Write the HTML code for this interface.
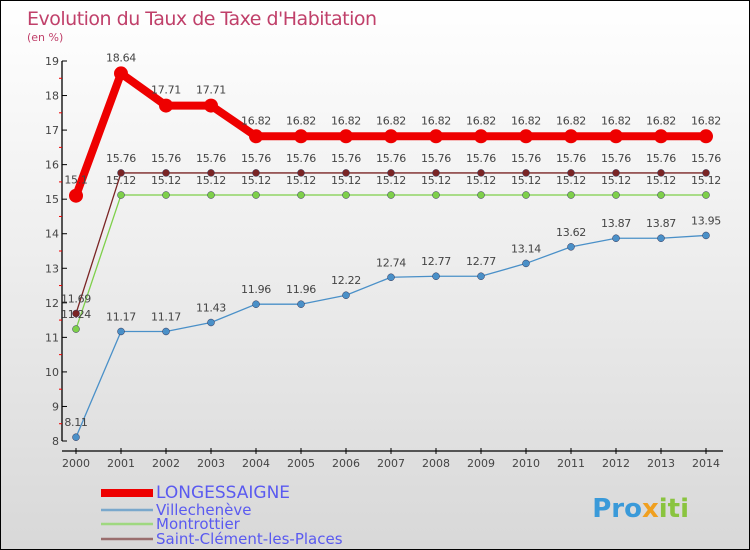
<!DOCTYPE html>
<html><head><meta charset="utf-8"><style>
body{margin:0}
#c{width:750px;height:550px;position:relative;box-sizing:border-box;border:1px solid #000;background:linear-gradient(#fff,#f0f0f0 40%,#d8d8d8);font-family:"DejaVu Sans","Liberation Sans",sans-serif;overflow:hidden}
svg text{font-family:"DejaVu Sans","Liberation Sans",sans-serif}
</style></head><body>
<div id="c">
<svg id="s" width="750" height="550">
<text x="26" y="24" font-size="19" fill="#c0406a" style="letter-spacing:-0.5px">Evolution du Taux de Taxe d'Habitation</text>
<text x="26" y="40" font-size="11" fill="#c0406a">(en %)</text>
<text x="688" y="516" font-size="26" font-weight="bold" text-anchor="end" fill="#3a9ad9">Pro<tspan fill="#f0a020">x</tspan><tspan fill="#8ac43f">iti</tspan></text>
</svg>
</div>
<script>
const years=[2000,2001,2002,2003,2004,2005,2006,2007,2008,2009,2010,2011,2012,2013,2014];
const longessaigne=[15.1,18.64,17.71,17.71,16.82,16.82,16.82,16.82,16.82,16.82,16.82,16.82,16.82,16.82,16.82];
const villechenève=[8.11,11.17,11.17,11.43,11.96,11.96,12.22,12.74,12.77,12.77,13.14,13.62,13.87,13.87,13.95];
const montrottier=[11.24,15.12,15.12,15.12,15.12,15.12,15.12,15.12,15.12,15.12,15.12,15.12,15.12,15.12,15.12];
const saintClement=[11.69,15.76,15.76,15.76,15.76,15.76,15.76,15.76,15.76,15.76,15.76,15.76,15.76,15.76,15.76];
const yTicks=[8,9,10,11,12,13,14,15,16,17,18,19];
const yMin=8,yMax=19;
const X=i=>75+i*(630/(years.length-1));
const Y=v=>440-(v-yMin)*(380/(yMax-yMin));
const s=document.getElementById('s');
const NS='http://www.w3.org/2000/svg';
function mk(t,a){const e=document.createElementNS(NS,t);for(const k in a)e.setAttribute(k,a[k]);s.appendChild(e);return e;}
let e;
e=mk('line',{x1:61,y1:Y(yMax),x2:61,y2:Y(yMin),stroke:'#000','stroke-width':1.3});


e=mk('line',{x1:61,y1:450,x2:722,y2:450,stroke:'#000','stroke-width':1.3});


yTicks.forEach(v=>{
 let t=mk('line',{x1:61,y1:Y(v),x2:66,y2:Y(v),stroke:'#000'});
 
 
 let l=mk('text',{x:58,y:Y(v)+4,'font-size':11,'text-anchor':'end',fill:'#444'});l.textContent=v;
 
 
 if(v<yMax){let m=mk('line',{x1:58,y1:Y(v+0.5),x2:61,y2:Y(v+0.5),stroke:'#e00'});
 
 }
});
years.forEach((y,i)=>{
 let t=mk('line',{x1:X(i),y1:447,x2:X(i),y2:453,stroke:'#000'});
 
 
 let l=mk('text',{x:X(i),y:466,'font-size':11,'text-anchor':'middle',fill:'#444'});l.textContent=y;
 
 
});
function series(d,col,w,r,name,lab,dy){
 let p=mk('polyline',{points:d.map((v,i)=>X(i)+','+Y(v)).join(' '),fill:'none',stroke:col,'stroke-width':w,'stroke-linejoin':'round'});
 
 
 d.forEach((v,i)=>{
  let c=mk('circle',{cx:X(i),cy:Y(v),r:r,fill:col,stroke:w>3?col:'#335',"stroke-width":w>3?0:0.5});
  
  
  if(lab){let t=mk('text',{x:X(i),y:Y(v)+dy,'font-size':11,'text-anchor':'middle',fill:'#444','letter-spacing':'-0.3','font-family':'Liberation Sans, sans-serif'});t.textContent=v;
  
  }
 });
}
series(montrottier,'#7ed04a',1.3,3.5,'montrottier',true,-11);
series(saintClement,'#7a2424',1.3,3.5,'saint-clement',true,-11);
series(villechenève,'#4a90c8',1.3,3.5,'villecheneve',true,-11);
series(longessaigne,'#ee0000',8,7,'longessaigne',true,-12);
const leg=[['LONGESSAIGNE','#ee0000',8,492,17],['Villechenève','#7aa8cc',2.5,509,15],['Montrottier','#9fd880',2.5,523,15],['Saint-Clément-les-Places','#9a6e6e',2.5,538,15]];
leg.forEach(l=>{
 let ln=mk('line',{x1:100,y1:l[3],x2:152,y2:l[3],stroke:l[1],'stroke-width':l[2]});
 
 
 let t=mk('text',{x:155,y:l[3]+5,'font-size':l[4],fill:'#5a5af0','font-family':'Liberation Sans, sans-serif'});t.textContent=l[0];
 
 
});
</script>
</body></html>
